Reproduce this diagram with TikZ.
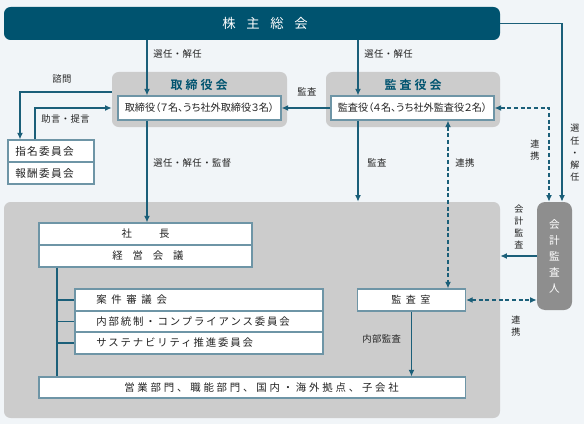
\documentclass[tikz,border=0pt]{standalone}
\usepackage{fontspec}
\setmainfont{Noto Sans CJK JP}
\newfontfamily\jpP[RawFeature=+palt]{Noto Sans CJK JP}
\newfontfamily\jpL[LetterSpace=5]{Noto Sans CJK JP}
\newfontfamily\jpS[LetterSpace=12]{Noto Sans CJK JP}
\newfontfamily\jpC[LetterSpace=18]{Noto Sans CJK JP}
\newfontfamily\jpD[LetterSpace=27]{Noto Sans CJK JP}
\newfontfamily\jpB[LetterSpace=45]{Noto Sans CJK JP}
\newfontfamily\jpE[LetterSpace=95]{Noto Sans CJK JP}
\newfontfamily\jpT[LetterSpace=80]{Noto Sans CJK JP}
\newfontfamily\jpBold[LetterSpace=25]{Noto Sans CJK JP Bold}
\usetikzlibrary{arrows.meta}
\definecolor{bgc}{HTML}{F1F5F8}
\definecolor{teal}{HTML}{00536F}
\definecolor{arr}{HTML}{1B5F79}
\definecolor{panel}{HTML}{CCCCCC}
\definecolor{darkgray}{HTML}{8E8E8E}
\definecolor{bord}{HTML}{6E95A6}
\definecolor{txt}{HTML}{222222}
\tikzset{
  panelbox/.style={fill=panel,rounded corners=5pt,inner sep=0,draw=none},
  whitebox/.style={fill=white,draw=bord,line width=0.8pt,inner sep=0,font=\jpP\fontsize{7.6}{9}\selectfont,text=txt},
  lbl/.style={font=\jpL\fontsize{7}{8}\selectfont,text=txt,inner sep=0},
  vlbl/.style={font=\fontsize{6.8}{9.2}\selectfont,text=txt,inner sep=0,align=center},
  conn/.style={draw=arr,line width=1pt},
  arrw/.style={conn,-{Latex[length=5pt,width=4.5pt]}},
  darrw/.style={conn,dash pattern=on 3pt off 2pt,{Latex[length=5pt,width=4.5pt]}-{Latex[length=5pt,width=4.5pt]}}
}
\begin{document}
\begin{tikzpicture}[x=0.75pt,y=-0.75pt]
\fill[bgc] (0,0) rectangle (584,424);
\useasboundingbox (0,0) rectangle (584,424);

% main nodes
\node[fill=teal,rounded corners=5pt,minimum width=496*0.75pt,minimum height=33*0.75pt,inner sep=0] (soukai) at (252,23.5) {};
\node[inner sep=0,text=white,font=\jpT\fontsize{10}{12}\selectfont,anchor=west] (soukait) at (222,23.5) {株主総会};

\node[panelbox,minimum width=175*0.75pt,minimum height=55*0.75pt] (toripanel) at (199.5,99.5) {};
\node[inner sep=0,text=teal,font=\jpBold\fontsize{9}{11}\selectfont] (trtitle) at (199,85) {取締役会};
\node[whitebox,minimum width=163*0.75pt,minimum height=24*0.75pt] (toribox) at (199.5,108) {取締役（７名、うち社外取締役３名）};

\node[panelbox,minimum width=174*0.75pt,minimum height=55*0.75pt] (kanpanel) at (413,99.5) {};
\node[inner sep=0,text=teal,font=\jpBold\fontsize{9}{11}\selectfont] (kntitle) at (413,85) {監査役会};
\node[whitebox,minimum width=163*0.75pt,minimum height=24*0.75pt] (kanbox) at (412.5,108) {監査役（４名、うち社外監査役２名）};

\node[whitebox,minimum width=86*0.75pt,minimum height=22*0.75pt] (shimei) at (51,151) {};
\node[whitebox,minimum width=86*0.75pt,minimum height=22*0.75pt] (houshu) at (51,173) {};
\node[lbl,anchor=west,font=\jpS\fontsize{8}{9}\selectfont] (shimeit) at (15,151) {指名委員会};
\node[lbl,anchor=west,font=\jpS\fontsize{8}{9}\selectfont] (houshut) at (15,173) {報酬委員会};

\node[panelbox,minimum width=496*0.75pt,minimum height=216*0.75pt] (mainpanel) at (252,310) {};

\node[whitebox,minimum width=213*0.75pt,minimum height=22*0.75pt,font=\fontsize{7.8}{9}\selectfont] (shacho) at (145.5,234) {社\hspace{2.6em}長};
\node[whitebox,minimum width=213*0.75pt,minimum height=22*0.75pt] (keiei) at (145.5,256) {};
\node[lbl,anchor=west,font=\jpE\fontsize{7.8}{9}\selectfont] (keieit) at (112,256) {経営会議};

\node[whitebox,minimum width=248*0.75pt,minimum height=22*0.75pt] (anken) at (199,300) {};
\node[whitebox,minimum width=248*0.75pt,minimum height=21*0.75pt] (naibu) at (199,321.5) {};
\node[whitebox,minimum width=248*0.75pt,minimum height=22*0.75pt] (sus) at (199,343) {};
\node[lbl,anchor=west,font=\jpB\fontsize{7.8}{9}\selectfont] (ankent) at (96,300) {案件審議会};
\node[lbl,anchor=west,font=\jpC\fontsize{7.8}{9}\selectfont] (naibut) at (96,321.5) {内部統制・コンプライアンス委員会};
\node[lbl,anchor=west,font=\jpC\fontsize{7.8}{9}\selectfont] (sust) at (96,343) {サステナビリティ推進委員会};

\node[whitebox,minimum width=108*0.75pt,minimum height=22*0.75pt] (kshitsu) at (411.5,300) {};
\node[lbl,anchor=west,font=\jpB\fontsize{7.5}{9}\selectfont] (kshitsut) at (391,300) {監査室};
\node[whitebox,minimum width=426.5*0.75pt,minimum height=21*0.75pt] (eigyo) at (252.25,387.5) {};
\node[lbl,anchor=west,font=\jpD\fontsize{7.8}{9}\selectfont] (eigyot) at (124,387.5) {営業部門、職能部門、国内・海外拠点、子会社};

\node[fill=darkgray,rounded corners=6pt,minimum width=35*0.75pt,minimum height=108*0.75pt,inner sep=0] (kaikei) at (554.5,256) {};
\node[inner sep=0,text=white,align=center,font=\fontsize{8}{12}\selectfont] (kaikeit) at (554.5,256) {会\\計\\監\\査\\人};

% helper coordinates
\coordinate (c1) at (147,0);
\coordinate (c2) at (358,0);
\coordinate (c3) at (448,0);
\coordinate (c4) at (549,0);
\coordinate (c5) at (562,0);
\coordinate (c6) at (20,0);
\coordinate (c7) at (35,0);
\coordinate (c8) at (57,0);
\coordinate (r1) at (0,92);
\coordinate (r2) at (0,108);

% connectors
\draw[arrw] (soukai.south -| c1) -- (toribox.north -| c1);
\node[lbl,anchor=west] (l1) at (153,54) {選任・解任};
\draw[arrw] (soukai.south -| c2) -- (kanbox.north -| c2);
\node[lbl,anchor=west] (l2) at (364,54) {選任・解任};

\draw[arrw] (kanbox.west) -- (toribox.east);
\node[lbl] (l3) at (307,92) {監査};

\draw[arrw] (toripanel.west |- r1) -- (c6 |- r1) -- (shimei.north -| c6);
\node[lbl] (l4) at (62,79) {諮問};
\draw[arrw] (shimei.north -| c7) -- (c7 |- r2) -- (toripanel.west |- r2);
\node[lbl,anchor=west] (l5) at (41,119) {助言・提言};

\draw[arrw] (toribox.south -| c1) -- (shacho.north -| c1);
\node[lbl,anchor=west] (l6) at (153,163) {選任・解任・監督};

\draw[arrw] (kanbox.south -| c2) -- (mainpanel.north -| c2);
\node[lbl,anchor=west] (l7) at (367,163) {監査};

\draw[darrw] (kanbox.south -| c3) -- (kshitsu.north -| c3);
\node[lbl,anchor=west] (l8) at (455,163) {連携};

\draw[darrw] (kanbox.east) -- (c4 |- kanbox.east) -- (kaikei.north -| c4);
\node[vlbl] (l9) at (535,150) {連\\携};

\draw[arrw] (soukai.east) -- (c5 |- soukai.east) -- (kaikei.north -| c5);
\node[vlbl] (l10) at (575,153) {選\\任\\・\\解\\任};

\draw[arrw] (kaikei.west) -- (kaikei.west -| mainpanel.east);
\node[vlbl] (l11) at (519,227) {会\\計\\監\\査};

\draw[darrw] (kshitsu.east) -- (kshitsu.east -| kaikei.west);
\node[vlbl] (l12) at (516,326) {連\\携};

\draw[arrw] (kshitsu.south) -- (eigyo.north -| kshitsu.south);
\node[lbl,anchor=west] (l13) at (362,339) {内部監査};

\draw[conn] (keiei.south -| c8) -- (eigyo.north -| c8);
\draw[conn] (c8 |- anken.west) -- (anken.west);
\draw[conn] (c8 |- naibu.west) -- (naibu.west);
\draw[conn] (c8 |- sus.west) -- (sus.west);
\end{tikzpicture}
\end{document}
